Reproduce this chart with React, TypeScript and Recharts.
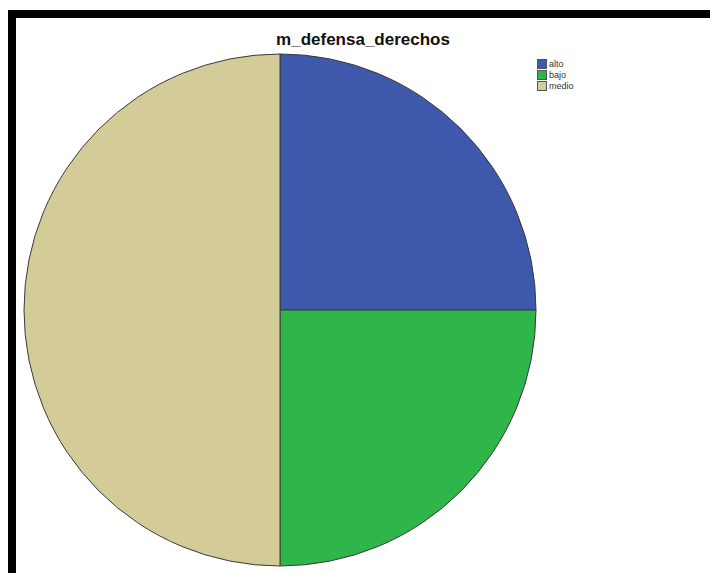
import React from "react";
import { PieChart, Pie, Cell, Legend } from "recharts";

const categories = ["alto", "bajo", "medio"];
const values = [25, 25, 50];
const colors = ["#3e58ac", "#2fb64a", "#d3cc99"];
const title = "m_defensa_derechos";

const data = categories.map((c, i) => ({ name: c, value: values[i] }));

const renderLegend = () => (
  <div style={{ fontFamily: "'Liberation Sans', Arial, sans-serif", fontSize: 9, color: "#333" }}>
    {categories.map((c, i) => (
      <div key={c} style={{ display: "flex", alignItems: "center", height: 11 }}>
        <span
          style={{
            display: "inline-block",
            width: 8,
            height: 8,
            background: colors[i],
            border: "1px solid #555",
            marginRight: 2,
          }}
        />
        <span style={{ color: "#333" }}>{c}</span>
      </div>
    ))}
  </div>
);

export default function App() {
  return (
    <div style={{ position: "absolute", left: 0, top: 0, width: 710, height: 573, background: "#fff", overflow: "hidden" }}>
      <div style={{ position: "absolute", left: 8, top: 10, width: 702, height: 8, background: "#000" }} />
      <div style={{ position: "absolute", left: 8, top: 10, width: 8, height: 563, background: "#000" }} />
      <div
        style={{
          position: "absolute",
          left: 263,
          top: 30,
          width: 200,
          textAlign: "center",
          fontFamily: "'Liberation Sans', Arial, sans-serif",
          fontWeight: "bold",
          fontSize: 17,
          color: "#111",
        }}
      >
        {title}
      </div>
      <div style={{ position: "absolute", left: 0, top: 0 }}>
        <PieChart width={710} height={573} margin={{ top: 0, right: 0, bottom: 0, left: 0 }}>
          <Pie
            data={data}
            dataKey="value"
            nameKey="name"
            cx={280}
            cy={310}
            outerRadius={256}
            startAngle={90}
            endAngle={-270}
            stroke="#3a3a3a"
            strokeWidth={1}
            isAnimationActive={false}
          >
            {data.map((d, i) => (
              <Cell key={d.name} fill={colors[i]} />
            ))}
          </Pie>
          <Legend
            content={renderLegend}
            layout="vertical"
            wrapperStyle={{ position: "absolute", left: 537, top: 58, width: 60 }}
          />
        </PieChart>
      </div>
    </div>
  );
}
